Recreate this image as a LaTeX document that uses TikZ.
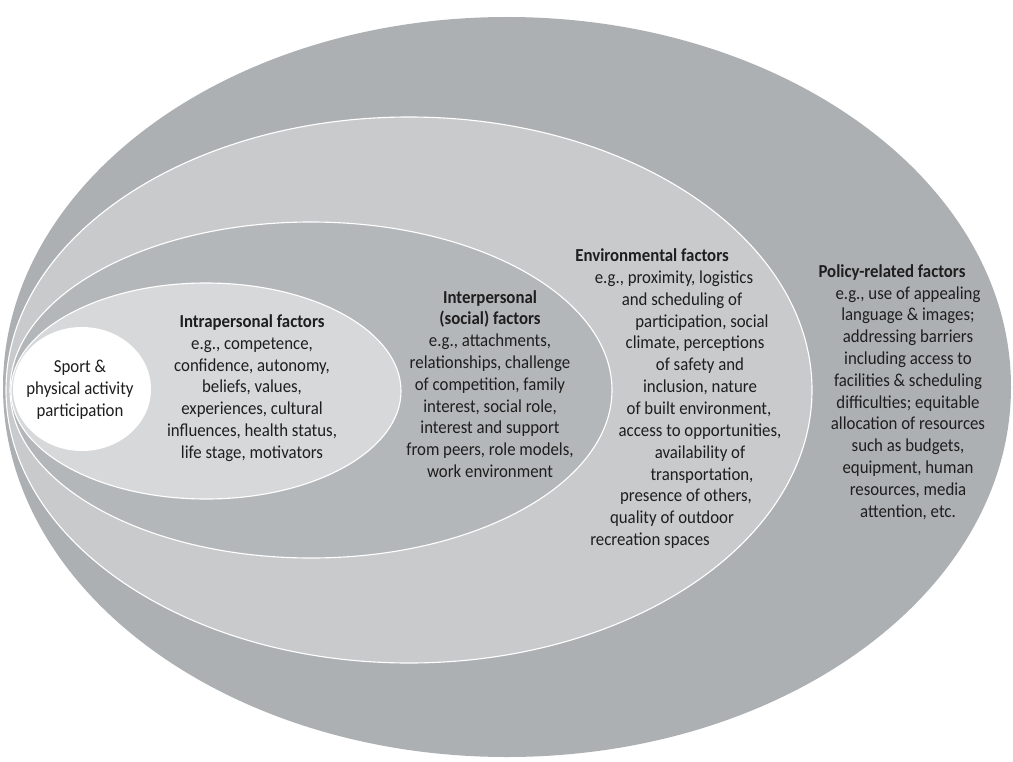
\documentclass[tikz,border=0pt]{standalone}
\usepackage{fontspec}
\setmainfont{Carlito}[FakeStretch=0.92]
\usetikzlibrary{positioning}
\definecolor{PolicyGrey}{RGB}{173,176,178}
\definecolor{EnvGrey}{RGB}{200,202,204}
\definecolor{InterGrey}{RGB}{180,183,185}
\definecolor{IntraGrey}{RGB}{214,216,217}
\definecolor{TextDark}{RGB}{30,30,30}

\begin{document}
\begin{tikzpicture}[x=0.025cm,y=-0.025cm,
  ring/.style={draw=white,line width=0.8pt},
  lbl/.style={align=center,text=TextDark,inner sep=0pt,
              font=\fontsize{13}{15.5}\selectfont},
]
\useasboundingbox (0,0) rectangle (1013,762);
\fill[white] (0,0) rectangle (1013,762);
% nested levels, outer to inner
\fill[PolicyGrey] (507,387) ellipse [x radius=504,y radius=370];
\draw[ring,fill=EnvGrey] (409,390) ellipse [x radius=403,y radius=273];
\draw[ring,fill=InterGrey] (311,390) ellipse [x radius=301,y radius=168];
\draw[ring,fill=IntraGrey] (206,391) ellipse [x radius=195,y radius=108];
\fill[white] (82,389) ellipse [x radius=69,y radius=62];

\node[lbl] (sport) at (80,390) {Sport \&\\physical activity\\participation};
\node[lbl] (intra) at (252,388) {\textbf{Intrapersonal factors}\\e.g., competence,\\
  confidence, autonomy,\\beliefs, values,\\experiences, cultural\\
  influences, health status,\\life stage, motivators};
\node[lbl] (inter) at (490,384) {\textbf{Interpersonal}\\\textbf{(social) factors}\\
  e.g., attachments,\\relationships, challenge\\of competition, family\\
  interest, social role,\\interest and support\\from peers, role models,\\work environment};
% environmental text follows the curve of its ring
\foreach \cx/\txt [count=\i] in {
  652/{\textbf{Environmental factors}},
  674/{e.g., proximity, logistics},
  682/{and scheduling of},
  702/{participation, social},
  695/{climate, perceptions},
  700/{of safety and},
  700/{inclusion, nature},
  699/{of built environment,},
  700/{access to opportunities,},
  700/{availability of},
  702/{transportation,},
  686/{presence of others,},
  672/{quality of outdoor},
  650/{recreation spaces}}
  \node[lbl,anchor=base] (env\i) at (\cx,{261.5+21.85*(\i-1)}) {\txt};
\node[lbl,anchor=base] (policytitle) at (892,277.5) {\textbf{Policy-related factors}};
\node[lbl] (policy) at (908,403) {e.g., use of appealing\\
  language \& images;\\addressing barriers\\including access to\\facilities \& scheduling\\
  difficulties; equitable\\allocation of resources\\such as budgets,\\equipment, human\\
  resources, media\\attention, etc.};
\end{tikzpicture}
\end{document}
